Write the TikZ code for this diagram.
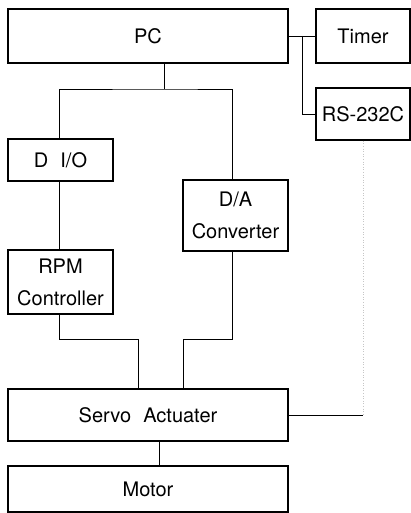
\documentclass[tikz,border=0pt]{standalone}
\usepackage{fontspec}
\setmainfont{TeX Gyre Heros}
\begin{document}
\begin{tikzpicture}[x=1pt,y=-1pt,
  box/.style={draw, line width=1.5pt, inner sep=0pt, align=center, font=\fontsize{20}{32}\selectfont},
  wire/.style={line width=0.8pt},
  faint/.style={line width=0.6pt, dotted, gray!45}]
\useasboundingbox (0,0) rectangle (411,513);
% boxes
\node[box, minimum width=280, minimum height=54] (pc) at (148,36) {PC};
\node[box, minimum width=94, minimum height=54] (timer) at (363,36) {Timer};
\node[box, minimum width=94, minimum height=52] (rs) at (363,114) {RS-232C};
\node[box, minimum width=105, minimum height=42] (dio) at (60.5,160) {D\hspace{0.6em}I/O};
\node[box, minimum width=105, minimum height=71] (da) at (235.5,215.5) {D/A\\Converter};
\node[box, minimum width=105, minimum height=64] (rpm) at (60.5,282) {RPM\\Controller};
\node[box, minimum width=280, minimum height=52] (servo) at (148,415) {Servo\hspace{0.6em}Actuater};
\node[box, minimum width=280, minimum height=46] (motor) at (148,489) {Motor};
% helper coordinates
\coordinate (bus) at (164,89);
\coordinate (dax) at (232,0);
\coordinate (jx) at (302,0);
\coordinate (m1) at (138,339);
\coordinate (m2) at (183,339);
\coordinate (smx) at (159,0);
\coordinate (sr) at (363,415);
% connectors
\draw[wire] (pc.south -| bus) -- (bus);
\draw[wire] (dio.north -| 59,0) |- (bus) -| (da.north -| dax);
\draw[wire] (pc.east) -- (timer.west);
\draw[wire] (jx |- pc.east) |- (rs.west);
\draw[wire] (dio.south -| 59,0) -- (rpm.north -| 59,0);
\draw[wire] (rpm.south -| 59,0) |- (m1) -- (m1 |- servo.north);
\draw[wire] (da.south -| dax) |- (m2) -- (m2 |- servo.north);
\draw[wire] (servo.south -| smx) -- (motor.north -| smx);
\draw[wire] (servo.east) -- (sr);
\draw[faint] (rs.south -| sr) -- (sr);
\end{tikzpicture}
\end{document}
